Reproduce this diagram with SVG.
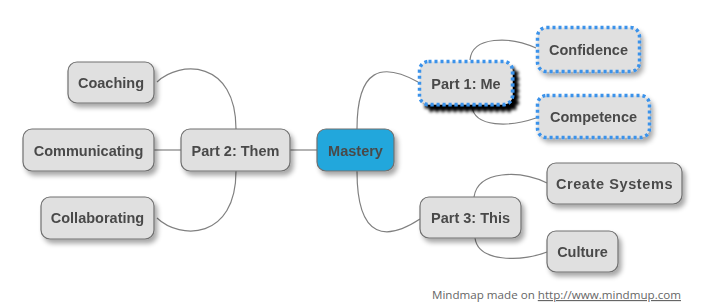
<svg xmlns="http://www.w3.org/2000/svg" width="701" height="308" viewBox="0 0 701 308">
<defs>
<filter id="sh" x="-20%" y="-20%" width="150%" height="160%">
<feGaussianBlur in="SourceAlpha" stdDeviation="2.5"/>
<feOffset dx="3" dy="4" result="b"/>
<feComponentTransfer><feFuncA type="linear" slope="0.35"/></feComponentTransfer>
<feMerge><feMergeNode/><feMergeNode in="SourceGraphic"/></feMerge>
</filter>
<filter id="shk" x="-20%" y="-20%" width="150%" height="160%">
<feGaussianBlur in="SourceAlpha" stdDeviation="1.5"/>
<feOffset dx="5" dy="6" result="b"/>
<feComponentTransfer><feFuncA type="linear" slope="1"/></feComponentTransfer>
<feMerge><feMergeNode/><feMergeNode in="SourceGraphic"/></feMerge>
</filter>
</defs>
<style>
.n{fill:#e0e0e0;stroke:#707070;stroke-width:1.2}
.d{fill:#e0e0e0;stroke:#3a92ea;stroke-width:3.5;stroke-dasharray:3 3}
.m{fill:#22a7dc;stroke:#707070;stroke-width:1.2}
.t{font-family:"Liberation Sans",Arial,sans-serif;font-weight:bold;font-size:14.5px;fill:#4a4a4a;text-anchor:middle}
.c{fill:none;stroke:#808080;stroke-width:1.2}
.f{font-family:"Open Sans","Liberation Sans",sans-serif;font-size:11.5px;fill:#666}
</style>
<rect width="701" height="308" fill="#fff"/>
<g id="connectors">
<path class="c" d="M290,150 L317,150"/>
<path class="c" d="M154,150 L181,150"/>
<path class="c" d="M236,129 C236,60 180,60 157,82"/>
<path class="c" d="M236,171 C236,240 180,240 157,218"/>
<path class="c" d="M357,129 C357,68 382,62 418,82"/>
<path class="c" d="M357,171 C357,242 388,240 420,219"/>
<path class="c" d="M470,60 C472,36 510,36 536,48"/>
<path class="c" d="M472,106 C474,128 510,127 536,118"/>
<path class="c" d="M474,197 C478,170 520,170 547,183"/>
<path class="c" d="M475,238 C478,262 520,262 547,252"/>
</g>
<g id="mastery" filter="url(#sh)"><rect class="m" x="317" y="129" width="77" height="42" rx="9"/><text class="t" x="355.5" y="155.5">Mastery</text></g>
<g id="part1" filter="url(#shk)"><rect class="d" x="419.5" y="61.5" width="93" height="43" rx="9"/><text class="t" x="466" y="88.5">Part 1: Me</text></g>
<g id="confidence" filter="url(#sh)"><rect class="d" x="537.5" y="27.5" width="102" height="44" rx="9"/><text class="t" x="588.5" y="54.5">Confidence</text></g>
<g id="competence" filter="url(#sh)"><rect class="d" x="537.5" y="95.5" width="112" height="42" rx="9"/><text class="t" x="593.5" y="121.5">Competence</text></g>
<g id="part3" filter="url(#sh)"><rect class="n" x="420" y="197" width="101" height="41" rx="9"/><text class="t" x="470.5" y="222.5">Part 3: This</text></g>
<g id="createsystems" filter="url(#sh)"><rect class="n" x="547" y="163" width="135" height="41" rx="9"/><text class="t" x="614.5" y="188.5" style="letter-spacing:0.6px">Create Systems</text></g>
<g id="culture" filter="url(#sh)"><rect class="n" x="547" y="231" width="71" height="41" rx="9"/><text class="t" x="582.5" y="256.5">Culture</text></g>
<g id="part2" filter="url(#sh)"><rect class="n" x="181" y="129" width="109" height="42" rx="9"/><text class="t" x="235.5" y="155.5">Part 2: Them</text></g>
<g id="coaching" filter="url(#sh)"><rect class="n" x="68" y="62" width="86" height="41" rx="9"/><text class="t" x="111" y="87.5">Coaching</text></g>
<g id="communicating" filter="url(#sh)"><rect class="n" x="23" y="129" width="131" height="42" rx="9"/><text class="t" x="88.5" y="155.5">Communicating</text></g>
<g id="collaborating" filter="url(#sh)"><rect class="n" x="41" y="197" width="113" height="42" rx="9"/><text class="t" x="97.5" y="223">Collaborating</text></g>
<g id="footer"><text class="f" x="432" y="299" textLength="249" lengthAdjust="spacingAndGlyphs">Mindmap made on <tspan text-decoration="underline">http://www.mindmup.com</tspan></text></g>
</svg>
